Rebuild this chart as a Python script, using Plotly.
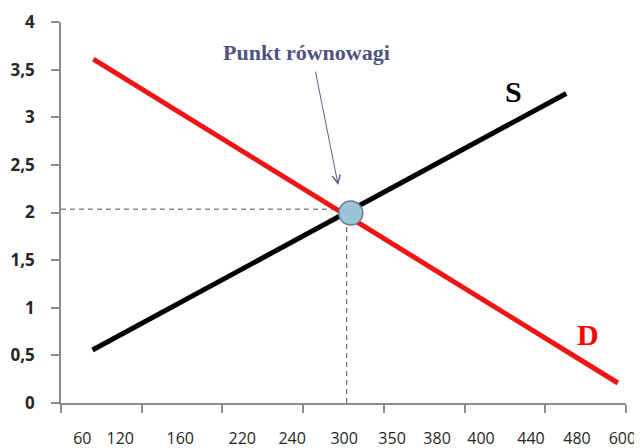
import plotly.graph_objects as go

# ---- data (x in axis-tick units: tick marks at 0..7) ----
tick_marks = [0, 1, 2, 3, 4, 5, 6, 7]
x_labels = ["60", "120", "160", "220", "240", "300", "350", "380", "400", "440", "480", "600"]
x_label_pos = [0.264, 0.734, 1.477, 2.245, 2.864, 3.508, 4.102, 4.659, 5.204, 5.823, 6.393, 6.955]
y_ticks = [0, 0.5, 1, 1.5, 2, 2.5, 3, 3.5, 4]
y_ticktext = ["0", "0,5", "1", "1,5", "2", "2,5", "3", "3,5", "4"]

demand_x = [0.40, 6.90]
demand_y = [3.61, 0.21]
supply_x = [0.39, 6.26]
supply_y = [0.556, 3.25]
eq_x = [3.59]
eq_y = [1.994]
hdash_x = [0, 3.45]
hdash_y = [2.035, 2.035]
vdash_x = [3.54, 3.54]
vdash_y = [0, 2.0]

fig = go.Figure()
fig.add_trace(go.Scatter(x=hdash_x, y=hdash_y, mode="lines",
                         line=dict(color="#4a4a6a", width=1, dash="5px,4px"), hoverinfo="skip"))
fig.add_trace(go.Scatter(x=vdash_x, y=vdash_y, mode="lines",
                         line=dict(color="#4a4a6a", width=1, dash="5px,4px"), hoverinfo="skip"))
fig.add_trace(go.Scatter(x=demand_x, y=demand_y, mode="lines",
                         line=dict(color="#f01414", width=5)))
fig.add_trace(go.Scatter(x=supply_x, y=supply_y, mode="lines",
                         line=dict(color="#000000", width=5)))
fig.add_trace(go.Scatter(x=eq_x, y=eq_y, mode="markers",
                         marker=dict(size=24, color="#9dc3d6", line=dict(color="#5b7f95", width=1.5))))

# page body has an 8px default margin, so the figure is 8px smaller and margins shifted
fig.update_layout(
    template="none",
    width=634, height=440,
    margin=dict(l=53, r=16, t=14, b=45, autoexpand=False),
    paper_bgcolor="white", plot_bgcolor="white",
    showlegend=False,
    xaxis=dict(range=[0, 7], showgrid=False, zeroline=False, automargin=False,
               showline=True, linecolor="#8c8c8c", linewidth=1.5,
               tickmode="array", tickvals=x_label_pos, ticktext=x_labels,
               ticks="", ticklabelstandoff=20,
               tickfont=dict(family="Open Sans", size=16, color="#262626"),
               minor=dict(tickmode="array", tickvals=tick_marks, ticks="outside",
                          ticklen=8, tickcolor="#8c8c8c", tickwidth=1.5, showgrid=False)),
    yaxis=dict(range=[0, 4], showgrid=False, zeroline=False, automargin=False,
               showline=True, linecolor="#8c8c8c", linewidth=1.5,
               tickmode="array", tickvals=y_ticks, ticktext=y_ticktext,
               ticks="outside", ticklen=8, tickcolor="#8c8c8c", tickwidth=1.5,
               ticklabelstandoff=13,
               tickfont=dict(family="Open Sans", size=17, color="#262626", weight="bold")),
)

fig.add_annotation(x=3.037, y=3.683, text="Punkt równowagi", showarrow=False,
                   font=dict(family="Liberation Serif", size=22, color="#4f5381", weight="bold"))
fig.add_annotation(x=3.434, y=2.288, text="", showarrow=True, ax=-23, ay=-115,
                   arrowhead=5, arrowsize=1.6, arrowwidth=1, arrowcolor="#5f5f80")
fig.add_annotation(x=5.60, y=3.27, text="S", showarrow=False,
                   font=dict(family="Liberation Serif", size=30, color="#000000", weight="bold"))
fig.add_annotation(x=6.53, y=0.72, text="D", showarrow=False,
                   font=dict(family="Liberation Serif", size=30, color="#ff0000", weight="bold"))

fig.write_html("out.html")
